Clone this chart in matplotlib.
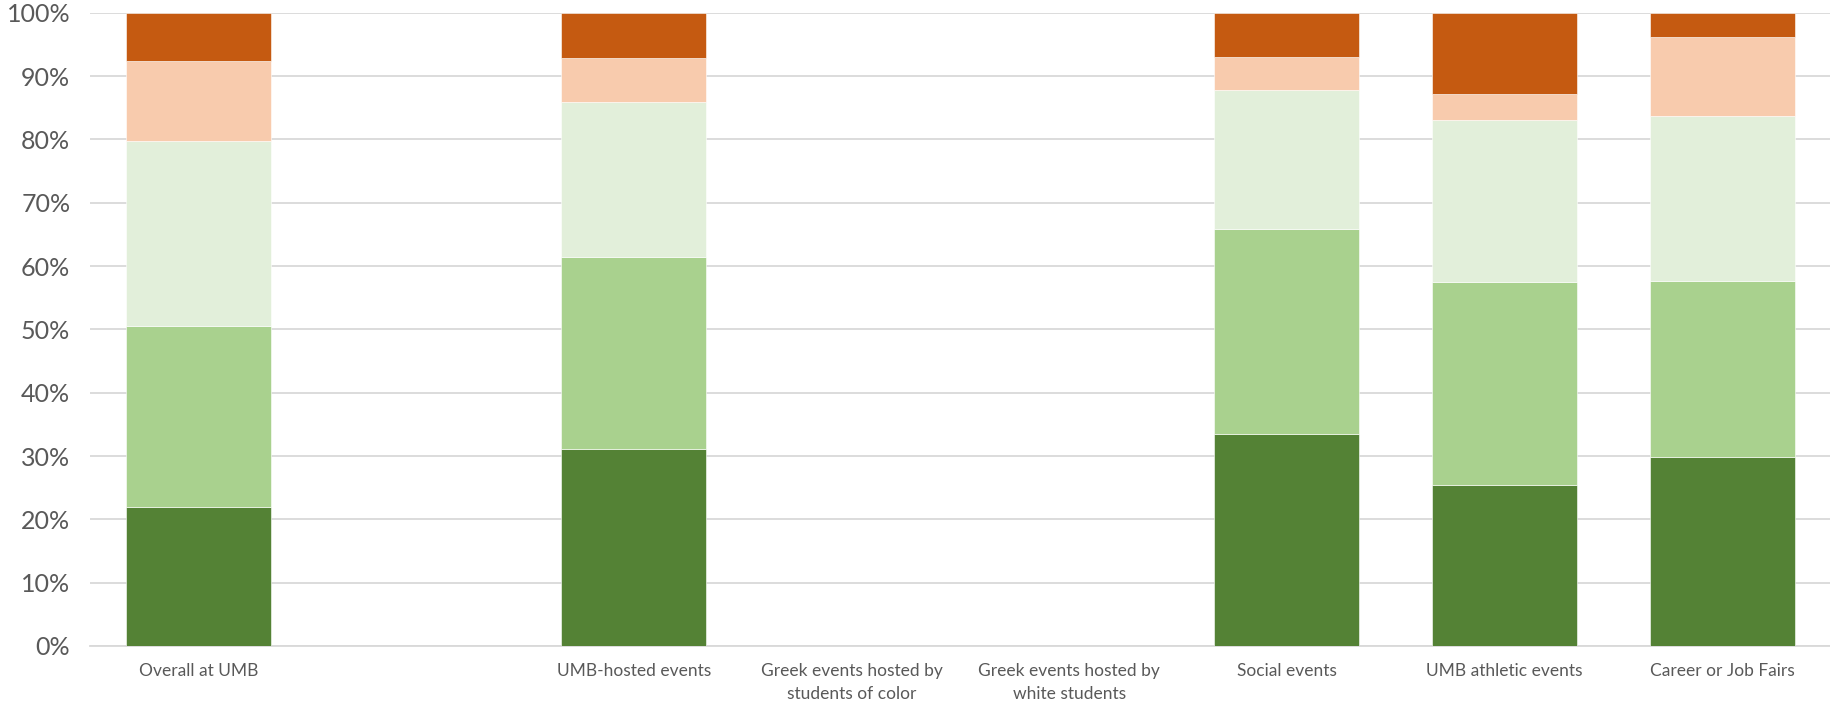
import numpy as np
import matplotlib.pyplot as plt
from matplotlib.ticker import PercentFormatter

# categories (second slot is an unlabeled empty column in the original)
categories = ["Overall at UMB", "", "UMB-hosted events",
              "Greek events hosted by\nstudents of color",
              "Greek events hosted by\nwhite students",
              "Social events", "UMB athletic events", "Career or Job Fairs"]

# percent shares, bottom to top
s1 = [22.0, 0, 31.1, 0, 0, 33.5, 25.5, 29.8]
s2 = [28.5, 0, 30.3, 0, 0, 32.3, 31.9, 27.9]
s3 = [29.3, 0, 24.5, 0, 0, 22.0, 25.6, 26.0]
s4 = [12.6, 0, 6.9, 0, 0, 5.2, 4.2, 12.5]
s5 = [7.6, 0, 7.2, 0, 0, 7.0, 12.8, 3.8]

series = [s1, s2, s3, s4, s5]
colors = ["#548235", "#A9D18E", "#E2EFDA", "#F8CBAD", "#C55A11"]

plt.rcParams['font.family'] = ['Lato', 'DejaVu Sans']

fig = plt.figure(figsize=(18.31, 7.06), dpi=100)
ax = fig.add_axes([0.049, 0.085, 0.951, 0.897])

x = np.arange(len(categories))
bottom = np.zeros(len(categories))
for vals, c in zip(series, colors):
    v = np.array(vals, dtype=float)
    ax.bar(x, v, width=0.667, bottom=bottom, color=c, edgecolor="white",
           linewidth=0.4, zorder=3)
    bottom += v

ax.set_xlim(-0.5, len(categories) - 0.5)
ax.set_ylim(0, 100)
ax.set_yticks(np.arange(0, 101, 10))
ax.yaxis.set_major_formatter(PercentFormatter(decimals=0))
ax.set_xticks(x)
ax.set_xticklabels(categories, fontsize=12.5, color="#595959", linespacing=1.6)
ax.tick_params(axis="y", labelsize=18, colors="#595959", length=0, pad=14)
ax.tick_params(axis="x", length=0, pad=12)

ax.grid(axis="y", color="#D9D9D9", linewidth=1.3, zorder=0)
for side in ["top", "right", "left"]:
    ax.spines[side].set_visible(False)
ax.spines["bottom"].set_color("#D9D9D9")
ax.spines["bottom"].set_linewidth(1.3)

fig.savefig("out.png", dpi=100)
